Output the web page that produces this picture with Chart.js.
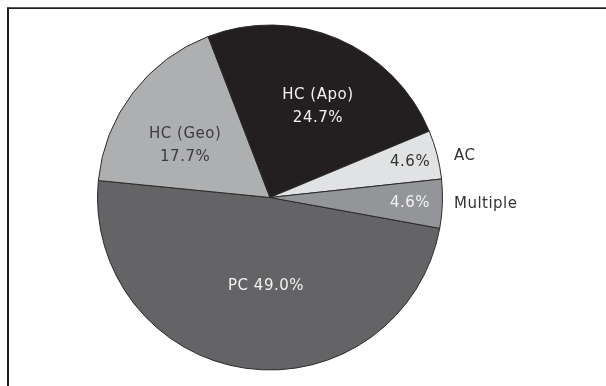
<!DOCTYPE html>
<html>
<head>
<meta charset="utf-8">
<title>Distribution by type</title>
<script src="https://cdn.jsdelivr.net/npm/chart.js@4.4.1/dist/chart.umd.min.js"></script>
<style>
  html, body { margin: 0; padding: 0; background: #ffffff; }
  #wrap { width: 606px; height: 386px; }
</style>
</head>
<body>
<div id="wrap"><canvas id="pie" width="606" height="386"></canvas></div>
<script>
// Categories and their shares (%)
const categories = ['PC', 'HC (Geo)', 'HC (Apo)', 'AC', 'Multiple'];
const shares = [49.0, 17.7, 24.7, 4.6, 4.6];

// Slice fills
const sliceColors = ['#646466', '#aeafb1', '#231f20', '#e1e2e4', '#939598'];

const FONT = '15px "DejaVu Sans", sans-serif';

// How each slice's text is laid out: radius fraction, angle nudge (deg),
// text colour, and where the category name goes.
const labelLayout = [
  { frac: 0.514, nudge: -5.4, color: '#f2f2f2', mode: 'inline' },
  { frac: 0.577, nudge: -5.8, color: '#3c3c3e', mode: 'stack' },
  { frac: 0.594, nudge: 4.7,  color: '#f2f2f2', mode: 'stack' },
  { frac: 0.838, nudge: 0.1,  color: '#333333', mode: 'outside', outFrac: 1.094, outNudge: 1.6 },
  { frac: 0.812, nudge: 0.3,  color: '#f2f2f2', mode: 'outside', outFrac: 1.067, outNudge: 0.0 }
];

const pct = v => v.toFixed(1) + '%';

// Thin frame along the top and left edges
const framePlugin = {
  id: 'frame',
  beforeDraw(chart) {
    const ctx = chart.ctx;
    ctx.save();
    ctx.fillStyle = '#ffffff';
    ctx.fillRect(0, 0, chart.width, chart.height);
    ctx.strokeStyle = '#9a9a9a';
    ctx.lineWidth = 1;
    ctx.beginPath();
    ctx.moveTo(7, 7.5);
    ctx.lineTo(chart.width, 7.5);
    ctx.stroke();
    ctx.strokeStyle = '#1e1e1e';
    ctx.lineWidth = 1.5;
    ctx.beginPath();
    ctx.moveTo(7.5, 8.25);
    ctx.lineTo(chart.width, 8.25);
    ctx.stroke();
    ctx.lineWidth = 2;
    ctx.beginPath();
    ctx.moveTo(8, 7.5);
    ctx.lineTo(8, chart.height);
    ctx.stroke();
    ctx.restore();
  }
};

// Category / percentage text on the slices
const sliceLabelPlugin = {
  id: 'sliceLabels',
  afterDatasetsDraw(chart) {
    const ctx = chart.ctx;
    const meta = chart.getDatasetMeta(0);
    ctx.save();
    ctx.font = FONT;
    if ('letterSpacing' in ctx) ctx.letterSpacing = '0.5px';
    ctx.textBaseline = 'middle';
    meta.data.forEach((arc, i) => {
      const p = arc.getProps(['x', 'y', 'startAngle', 'endAngle', 'outerRadius'], true);
      const lay = labelLayout[i];
      const mid = (p.startAngle + p.endAngle) / 2 + lay.nudge * Math.PI / 180;
      const lx = p.x + Math.cos(mid) * p.outerRadius * lay.frac;
      const ly = p.y + Math.sin(mid) * p.outerRadius * lay.frac;
      ctx.fillStyle = lay.color;
      ctx.textAlign = 'center';
      if (lay.mode === 'inline') {
        ctx.fillText(categories[i] + ' ' + pct(shares[i]), lx, ly);
      } else if (lay.mode === 'stack') {
        ctx.fillText(categories[i], lx, ly - 11.5);
        ctx.fillText(pct(shares[i]), lx, ly + 11.5);
      } else {
        ctx.fillText(pct(shares[i]), lx, ly);
        const om = (p.startAngle + p.endAngle) / 2 + lay.outNudge * Math.PI / 180;
        const ox = p.x + Math.cos(om) * p.outerRadius * lay.outFrac;
        const oy = p.y + Math.sin(om) * p.outerRadius * lay.outFrac;
        ctx.fillStyle = '#333333';
        ctx.textAlign = 'left';
        ctx.fillText(categories[i], ox, oy);
      }
    });
    ctx.restore();
  }
};

new Chart(document.getElementById('pie'), {
  type: 'pie',
  data: {
    labels: categories,
    datasets: [{
      data: shares,
      backgroundColor: sliceColors,
      borderColor: '#2b2b2b',
      borderWidth: 1
    }]
  },
  options: {
    responsive: false,
    animation: false,
    rotation: 100.3,
    layout: { padding: { left: 97, right: 163, top: 24, bottom: 15 } },
    plugins: {
      legend: { display: false },
      tooltip: { enabled: false }
    }
  },
  plugins: [framePlugin, sliceLabelPlugin]
});
</script>
</body>
</html>
